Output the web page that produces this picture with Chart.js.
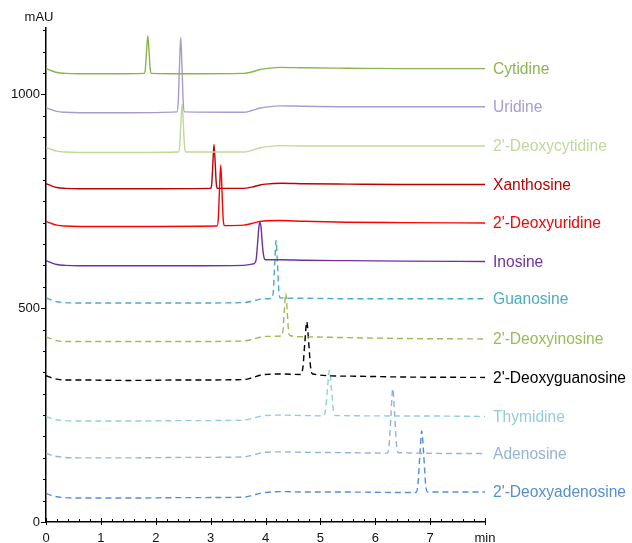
<!DOCTYPE html>
<html>
<head>
<meta charset="utf-8">
<script src="https://cdn.jsdelivr.net/npm/chart.js@4/dist/chart.umd.min.js"></script>
<style>
  html, body { margin: 0; padding: 0; background: #fff; }
  #wrap { width: 632px; height: 543px; position: relative; }
</style>
</head>
<body>
<div id="wrap"><canvas id="chart"></canvas></div>
<script>
// Retention time (min) / absorbance (mAU) pairs, one trace per nucleoside
const cytidine = [[0,1060],[0.1,1055],[0.2,1051],[0.35,1049],[0.6,1048],[1.2,1048],[1.789,1049],[1.811,1060],[1.833,1102],[1.855,1137],[1.877,1102],[1.899,1060],[1.921,1049],[2.5,1048],[3.6,1049],[3.75,1052],[3.9,1058],[4.0,1060],[4.3,1063],[4.7,1062],[5.5,1061],[6.5,1060],[8,1060]];
const uridine = [[0,969],[0.1,964],[0.2,960],[0.35,958],[0.6,957],[1.5,957],[2.386,959],[2.409,981],[2.432,1064],[2.455,1133],[2.478,1064],[2.501,981],[2.524,959],[3.6,958],[3.75,962],[3.9,968],[4.0,970],[4.3,973],[4.7,972],[5.5,971],[6.5,971],[8,971]];
const deoxycytidine = [[0,876],[0.1,871],[0.2,867],[0.35,865],[0.6,864],[1.5,864],[2.414,865],[2.436,879],[2.458,933],[2.48,977],[2.502,933],[2.524,879],[2.546,865],[3.6,865],[3.75,869],[3.9,875],[4.0,877],[4.3,880],[4.7,879],[5.5,879],[6.5,879],[8,879]];
const xanthosine = [[0,791],[0.1,786],[0.2,782],[0.35,780],[0.6,779],[1.5,779],[3.002,780],[3.022,793],[3.042,842],[3.062,883],[3.082,842],[3.102,793],[3.122,780],[3.6,780],[3.75,783],[3.9,788],[4.0,790],[4.3,792],[4.7,791],[5.5,790],[6.5,789],[8,789]];
const deoxyuridine = [[0,703],[0.1,698],[0.2,694],[0.35,692],[0.6,691],[1.5,691],[3.118,692],[3.14,710],[3.162,778],[3.184,834],[3.206,778],[3.228,710],[3.25,693],[3.6,694],[3.75,698],[3.9,703],[4.25,705],[4.7,703],[5.5,701],[6.5,700],[8,699]];
const inosine = [[0,611],[0.1,606],[0.2,602],[0.35,600],[0.6,599],[1.5,599],[2.5,599],[3.6,600],[3.75,603],[3.8,605],[3.83,614],[3.855,650],[3.88,690],[3.9,701],[3.92,688],[3.945,645],[3.97,620],[4.0,613],[4.3,613],[4.7,612],[5.5,611],[6.5,610],[8,609]];
const guanosine = [[0,524],[0.1,519],[0.2,515],[0.35,513],[0.6,512],[1.5,512],[2.5,512],[3.6,513],[3.75,516],[3.9,521],[4.0,522],[4.118,523],[4.143,540],[4.168,605],[4.193,658],[4.218,605],[4.243,540],[4.268,524],[4.7,523],[5.5,522],[6.5,522],[8,522]];
const deoxyinosine = [[0,433],[0.1,428],[0.2,424],[0.35,422],[0.6,422],[1.5,422],[2.5,422],[3.6,423],[3.75,427],[3.9,432],[4.0,434],[4.294,435],[4.319,448],[4.344,496],[4.369,535],[4.394,496],[4.419,448],[4.444,436],[4.7,433],[5.5,431],[6.5,429],[8,428]];
const deoxyguanosine = [[0,342],[0.1,337],[0.2,334],[0.35,332],[0.6,332],[1.5,331],[2.5,332],[3.6,333],[3.75,337],[3.9,343],[4.0,345],[4.3,346],[4.647,345],[4.682,362],[4.717,420],[4.752,468],[4.787,420],[4.822,362],[4.857,346],[5.5,341],[6.5,339],[8,338]];
const thymidine = [[0,247],[0.1,242],[0.2,239],[0.35,237],[0.6,236],[1.5,236],[2.5,237],[3.6,238],[3.75,242],[3.9,247],[4.0,249],[4.3,250],[4.7,249],[5.06,248],[5.095,263],[5.13,313],[5.165,355],[5.2,313],[5.235,263],[5.27,249],[6.5,248],[8,247]];
const adenosine = [[0,161],[0.1,156],[0.2,153],[0.35,151],[0.6,150],[1.5,150],[2.5,151],[3.6,152],[3.75,156],[3.9,161],[4.0,163],[4.3,164],[4.7,163],[5.5,162],[6.22,161],[6.253,181],[6.287,253],[6.32,312],[6.353,253],[6.387,181],[6.42,162],[8,160]];
const deoxyadenosine = [[0,67],[0.1,62],[0.2,59],[0.35,57],[0.6,56],[1.5,56],[2.5,57],[3.6,58],[3.75,62],[3.9,67],[4.0,69],[4.3,71],[4.7,70],[5.5,70],[6.5,69],[6.743,69],[6.778,88],[6.813,157],[6.848,213],[6.883,157],[6.918,88],[6.953,70],[8,70]];

const compoundNames = ['Cytidine', 'Uridine', "2'-Deoxycytidine", 'Xanthosine', "2'-Deoxyuridine", 'Inosine',
  'Guanosine', "2'-Deoxyinosine", "2'-Deoxyguanosine", 'Thymidine', 'Adenosine', "2'-Deoxyadenosine"];
const traces = [cytidine, uridine, deoxycytidine, xanthosine, deoxyuridine, inosine,
  guanosine, deoxyinosine, deoxyguanosine, thymidine, adenosine, deoxyadenosine];

// Axis ranges and labelled ticks
const timeRange = [0, 8];
const mauRange = [0, 1155];
const mauLabelled = [0, 500, 1000];

// Styling
const lineColors = ['#8DB34F', '#A99BD0', '#BFD99C', '#C00000', '#FF0000', '#7030A0',
  '#4BACC6', '#9BBB59', '#000000', '#93CDDD', '#95B3D7', '#558ED5'];
const dashedLine = [false, false, false, false, false, false, true, true, true, true, true, true];
const FONT = '"Liberation Sans", Arial, sans-serif';

const datasets = traces.map((pts, i) => ({
  label: compoundNames[i],
  data: pts,
  borderColor: lineColors[i],
  borderWidth: 1.4,
  borderDash: dashedLine[i] ? [6, 4] : [],
  pointRadius: 0,
  showLine: true,
  fill: false,
  cubicInterpolationMode: 'monotone'
}));

// Tick marks, unit labels and trace names
const decorations = {
  id: 'decorations',
  afterDraw(chart) {
    const { ctx, chartArea: a, scales: { x, y } } = chart;
    ctx.save();
    ctx.strokeStyle = '#000';
    ctx.lineWidth = 1;
    ctx.setLineDash([]);
    ctx.beginPath();
    for (let v = mauRange[0]; v <= mauRange[1]; v += 50) {
      const py = Math.round(y.getPixelForValue(v)) + 0.5;
      const len = v % 500 === 0 ? 5 : 3;
      ctx.moveTo(a.left - len, py);
      ctx.lineTo(a.left, py);
    }
    for (let k = 0; k <= 40; k++) {
      const v = k * 0.2;
      const px = Math.round(x.getPixelForValue(v)) + 0.5;
      if (k % 5 === 0) {
        ctx.moveTo(px, a.bottom - 4);
        ctx.lineTo(px, a.bottom + 3);
      } else {
        ctx.moveTo(px, a.bottom - 3);
        ctx.lineTo(px, a.bottom);
      }
    }
    ctx.stroke();

    ctx.fillStyle = '#111';
    ctx.font = '13px ' + FONT;
    ctx.textAlign = 'center';
    ctx.textBaseline = 'middle';
    ctx.fillText('mAU', a.left - 7, 17);

    ctx.font = '15.6px ' + FONT;
    ctx.textAlign = 'left';
    traces.forEach((pts, i) => {
      const last = pts[pts.length - 1];
      ctx.fillStyle = lineColors[i];
      ctx.fillText(compoundNames[i], a.right + 8, y.getPixelForValue(last[1]) + 1);
    });
    ctx.restore();
  }
};

new Chart(document.getElementById('chart'), {
  type: 'scatter',
  data: { datasets },
  plugins: [decorations],
  options: {
    responsive: true,
    maintainAspectRatio: false,
    animation: false,
    layout: { padding: { left: 0, right: 147, top: 28, bottom: 0 } },
    plugins: { legend: { display: false }, tooltip: { enabled: false } },
    scales: {
      x: {
        type: 'linear',
        min: timeRange[0],
        max: timeRange[1],
        grid: { display: false, drawTicks: false },
        border: { display: true, color: '#000', width: 1.5 },
        ticks: {
          stepSize: 1,
          maxRotation: 0,
          autoSkip: false,
          padding: 9,
          color: '#111',
          font: { family: FONT, size: 13 },
          callback: v => (v === timeRange[1] ? 'min' : String(v))
        },
        afterFit: s => { s.height = 21; }
      },
      y: {
        type: 'linear',
        min: mauRange[0],
        max: mauRange[1],
        grid: { display: false, drawTicks: false },
        border: { display: true, color: '#000', width: 1.5 },
        ticks: {
          stepSize: 50,
          autoSkip: false,
          padding: 6,
          color: '#111',
          font: { family: FONT, size: 13 },
          callback: v => (mauLabelled.includes(v) ? String(v) : '')
        },
        afterFit: s => { s.width = 46; }
      }
    }
  }
});
</script>
</body>
</html>
